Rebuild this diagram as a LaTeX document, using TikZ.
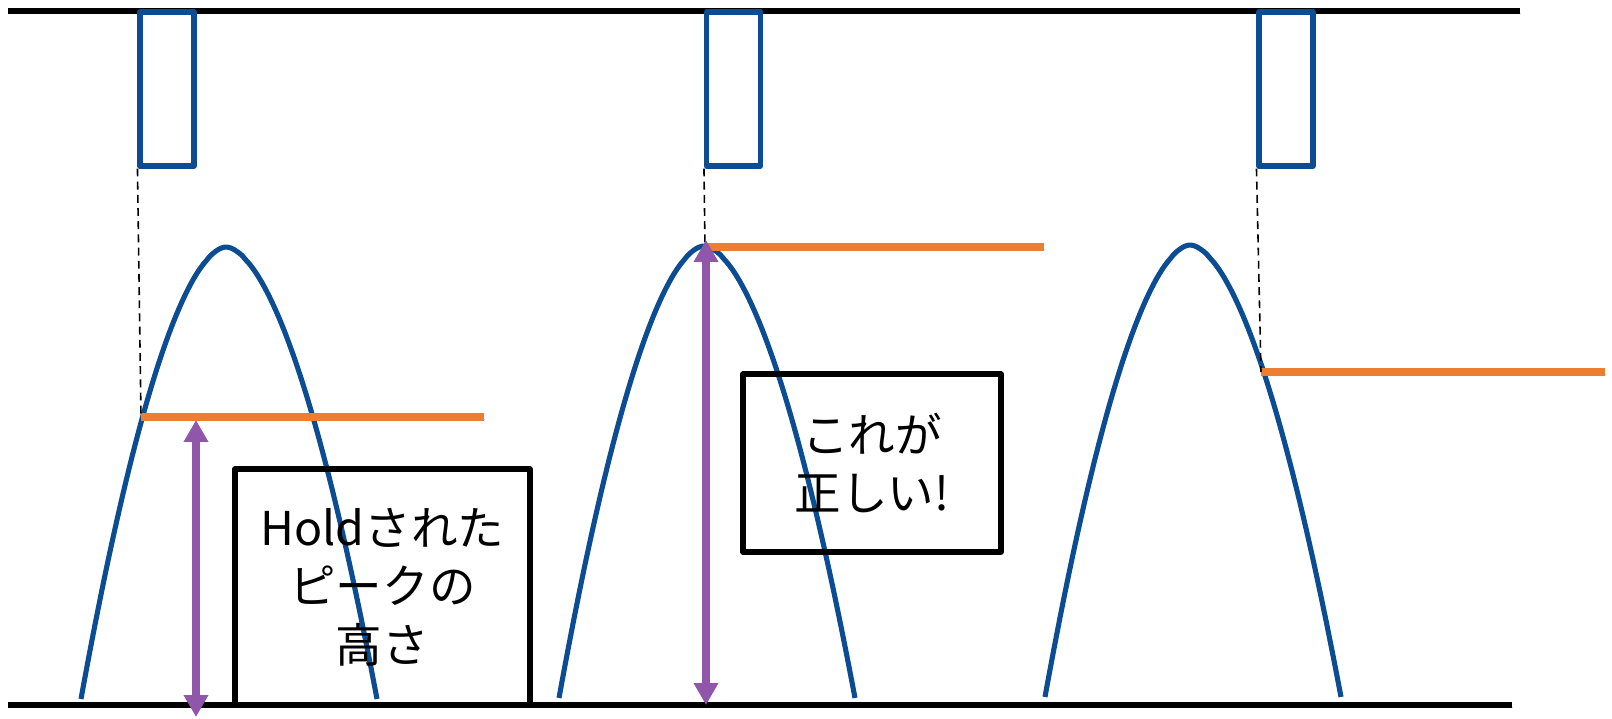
\documentclass[tikz,border=0pt]{standalone}
\usepackage{fontspec}
\newfontfamily\jpfont{Noto Sans CJK JP}
\usetikzlibrary{arrows.meta}
\definecolor{pkblue}{HTML}{0B4C92}
\definecolor{pkorange}{HTML}{ED7D31}
\definecolor{pkpurple}{HTML}{8F56AA}
\begin{document}
\begin{tikzpicture}[x=0.02cm,y=-0.02cm,
  declare function={pk(\t)=452*pow(abs(\t)/(145+6*(\t>0)),1.77);},
  softshadow/.style={preaction={draw=black, draw opacity=0.16,
                transform canvas={shift={(0.6pt,-1.3pt)}}}},
  axisline/.style={softshadow, line width=3.1pt, black},
  pulse/.style={draw=pkblue, line width=2.9pt, line join=round, inner sep=0pt,
                minimum width=1.08cm, minimum height=3.08cm},
  peakcurve/.style={draw=pkblue, line width=2.9pt},
  holdline/.style={softshadow, draw=pkorange, line width=4.6pt},
  guide/.style={draw=black, line width=0.9pt, dash pattern=on 4.5pt off 3pt},
  heightarrow/.style={draw=pkpurple, line width=4.1pt,
                arrows={Triangle[width=13.3pt,length=12.5pt]-Triangle[width=13.3pt,length=12.5pt]}},
  labelbox/.style={draw=black, line width=2.9pt, line join=round, inner sep=0pt,
                align=center, font=\jpfont\fontsize{26.5}{33.2}\selectfont}]
\useasboundingbox (0,0) rectangle (1612,718);

% axis lines
\coordinate (tl) at (8,11);  \coordinate (tr) at (1520,11);
\coordinate (bl) at (8,705); \coordinate (br) at (1512,705);
\draw[axisline] (tl) -- (tr);
\draw[axisline] (bl) -- (br);

% gate pulses
\node[pulse] (r1) at (167,89) {};
\node[pulse] (r2) at (733.5,89) {};
\node[pulse] (r3) at (1286,89) {};

% peaks
\foreach \px/\py in {226/247, 704/246, 1190/245}
  \draw[peakcurve] plot[domain=-145:151, samples=100, smooth] ({\px+\x},{\py+pk(\x)});

% held levels
\coordinate (o1a) at (141,417);  \coordinate (o1b) at (484,417);
\coordinate (o2a) at (705,247);  \coordinate (o2b) at (1044,247);
\coordinate (o3a) at (1261,372); \coordinate (o3b) at (1605,372);
\draw[holdline] (o1a) -- (o1b);
\draw[holdline] (o2a) -- (o2b);
\draw[holdline] (o3a) -- (o3b);

% guides
\draw[guide] (r1.south west) -- (o1a);
\draw[guide] (r2.south west) -- (o2a);
\draw[guide] (r3.south west) -- (o3a);

% height arrows
\coordinate (a1t) at (196,420); \coordinate (a1b) at (196,717);
\coordinate (a2t) at (706,240); \coordinate (a2b) at (706,705);
\draw[heightarrow] (a1t) -- (a1b);
\draw[heightarrow] (a2t) -- (a2b);

% labels
\node[labelbox, minimum width=5.9cm, minimum height=4.72cm] (t1) at (382.5,587) {Holdされた\\ピークの\\高さ};
\node[labelbox, minimum width=5.16cm, minimum height=3.56cm] (t2) at (872,463) {これが\\正しい!};
\end{tikzpicture}
\end{document}
